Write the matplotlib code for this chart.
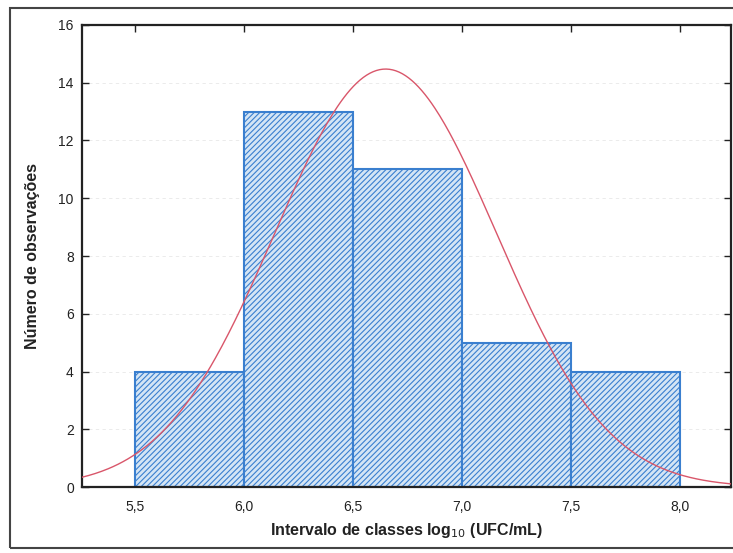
import numpy as np
import matplotlib
matplotlib.use("Agg")
import matplotlib.pyplot as plt
from matplotlib.patches import Rectangle

plt.rcParams['font.family'] = ['Liberation Sans', 'DejaVu Sans']
plt.rcParams['hatch.color'] = '#34506e'
plt.rcParams['hatch.linewidth'] = 0.8

# Data
bin_edges = [5.5, 6.0, 6.5, 7.0, 7.5, 8.0]
counts = [4, 13, 11, 5, 4]
fit_mean = 6.65
fit_sd = 0.51
n_obs = sum(counts)
x_ticks = [5.5, 6.0, 6.5, 7.0, 7.5, 8.0]
x_ticklabels = ['5,5', '6,0', '6,5', '7,0', '7,5', '8,0']
y_ticks = [0, 2, 4, 6, 8, 10, 12, 14, 16]

fig = plt.figure(figsize=(7.33, 5.53), dpi=100)
ax = fig.add_axes([0.112, 0.119, 0.885, 0.836])

# outer frame
fig.patches.append(Rectangle((0.0136, 0.009), 0.99, 0.977, transform=fig.transFigure,
                             fill=False, edgecolor='#444444', linewidth=1.5, zorder=0))

widths = np.diff(bin_edges)
ax.bar(bin_edges[:-1], counts, width=widths, align='edge', color='#d4e5f5',
       edgecolor='#3a7fcf', linewidth=1.5, hatch='//////', zorder=2)

xs = np.linspace(5.256, 8.235, 400)
bw = widths[0]
ys = n_obs * bw * np.exp(-0.5 * ((xs - fit_mean) / fit_sd) ** 2) / (fit_sd * np.sqrt(2 * np.pi))
ax.plot(xs, ys, color='#d9566a', linewidth=1.0, zorder=3)

for yv in y_ticks[1:-1]:
    ax.axhline(yv, color='#e8e8e8', linewidth=0.6, linestyle=(0, (4, 4)), zorder=1)

ax.set_xlim(5.256, 8.235)
ax.set_ylim(0, 16)
ax.set_xticks(x_ticks)
ax.set_xticklabels(x_ticklabels)
ax.set_yticks(y_ticks)
ax.tick_params(direction='in', top=True, right=True, bottom=False, length=5, width=1,
               labelsize=10, colors='#222222', pad=6)
ax.tick_params(axis='x', pad=9)
for s in ax.spines.values():
    s.set_linewidth(1.6)
    s.set_color('#222222')

ax.set_xlabel('Intervalo de classes log$_{10}$ (UFC/mL)', fontsize=11.5, fontweight='bold',
              color='#222222', labelpad=5)
ax.set_ylabel('Número de observações', fontsize=11.5, fontweight='bold', color='#222222',
              labelpad=13)

fig.savefig('out.png', dpi=100)
